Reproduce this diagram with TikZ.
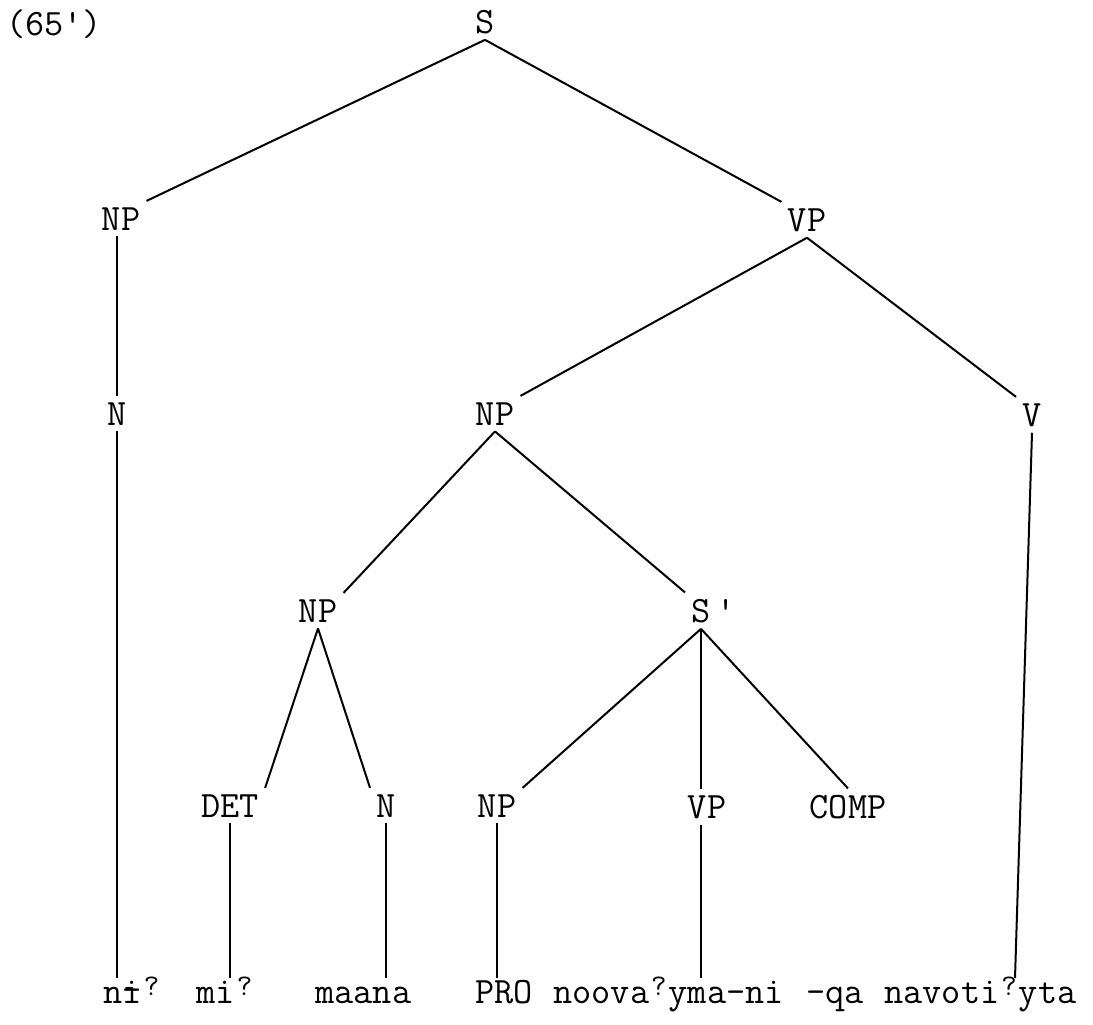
\documentclass[tikz,border=0pt]{standalone}
\usepackage{tikz}

\newcommand{\treefont}{\fontsize{18.6}{22}\selectfont\ttfamily}
% raised glottal stop and barred i, typewriter style
\newcommand{\gstop}{\makebox[0.525em]{\raisebox{0.45ex}{\fontsize{15}{15}\selectfont ?}}}
\newcommand{\barri}{\ooalign{i\cr\raisebox{0.1ex}{-}}}

\tikzset{
    cat/.style={font=\treefont, anchor=base, inner sep=3pt},
    word/.style={font=\treefont, anchor=base west, inner sep=0pt},
    branch/.style={line width=1pt}
}

\begin{document}
\begin{tikzpicture}[x=0.5pt, y=-0.5pt]
    \useasboundingbox (0,0) rectangle (1093,1024);

    % example number
    \node[word] (num) at (6,35) {(65\textquotesingle)};

    % category labels
    \node[cat] (S)    at (485,33)  {S};
    \node[cat] (NPa)  at (121,230) {NP};
    \node[cat] (VPa)  at (807,231) {VP};
    \node[cat] (Na)   at (117,425) {N};
    \node[cat] (NPb)  at (495,425) {NP};
    \node[cat] (V)    at (1032,426) {V};
    \node[cat] (NPc)  at (318,622) {NP};
    \node[cat] (Sbar) at (701,622) {S\rlap{\,\textquotesingle}};
    \node[cat] (DET)  at (230,817) {DET};
    \node[cat] (Nb)   at (386,817) {N};
    \node[cat] (NPd)  at (497,817) {NP};
    \node[cat] (VPb)  at (707,818) {VP};
    \node[cat] (COMP) at (848,818) {COMP};

    % words
    \node[word] (ni)     at (103,1003) {n\barri\gstop};
    \node[word] (mi)     at (196,1003) {mi\gstop};
    \node[word] (maana)  at (315,1003) {maana};
    \node[word] (pro)    at (475,1003) {PRO};
    \node[word] (noova)  at (553,1003) {noova\gstop{}yma-ni};
    \node[word] (qa)     at (806,1003) {-qa};
    \node[word] (navoti) at (884,1003) {navoti\gstop{}yta};

    \coordinate (row) at (0,978);
    \coordinate (Vfoot) at (1015,978);

    % branches
    \draw[branch] (S.south) -- (NPa.north east);
    \draw[branch] (S.south) -- (VPa.north west);
    \draw[branch] (Na.north |- NPa.south) -- (Na.north);
    \draw[branch] (VPa.south) -- (NPb.north east);
    \draw[branch] (VPa.south) -- (V.north west);
    \draw[branch] (V.south) -- (Vfoot);
    \draw[branch] (NPb.south) -- (NPc.north east);
    \draw[branch] (NPb.south) -- (Sbar.north west);
    \draw[branch] (NPc.south) -- (DET.north east);
    \draw[branch] (NPc.south) -- (Nb.north west);
    \draw[branch] (Sbar.south) -- (NPd.north east);
    \draw[branch] (Sbar.south) -- (Sbar.south |- VPb.north);
    \draw[branch] (Sbar.south) -- (COMP.north);

    % drops to the words
    \foreach \n in {Na, DET, Nb, NPd}
        \draw[branch] (\n.south) -- (\n.south |- row);
    \draw[branch] (Sbar.south |- VPb.south) -- (Sbar.south |- row);
\end{tikzpicture}
\end{document}
